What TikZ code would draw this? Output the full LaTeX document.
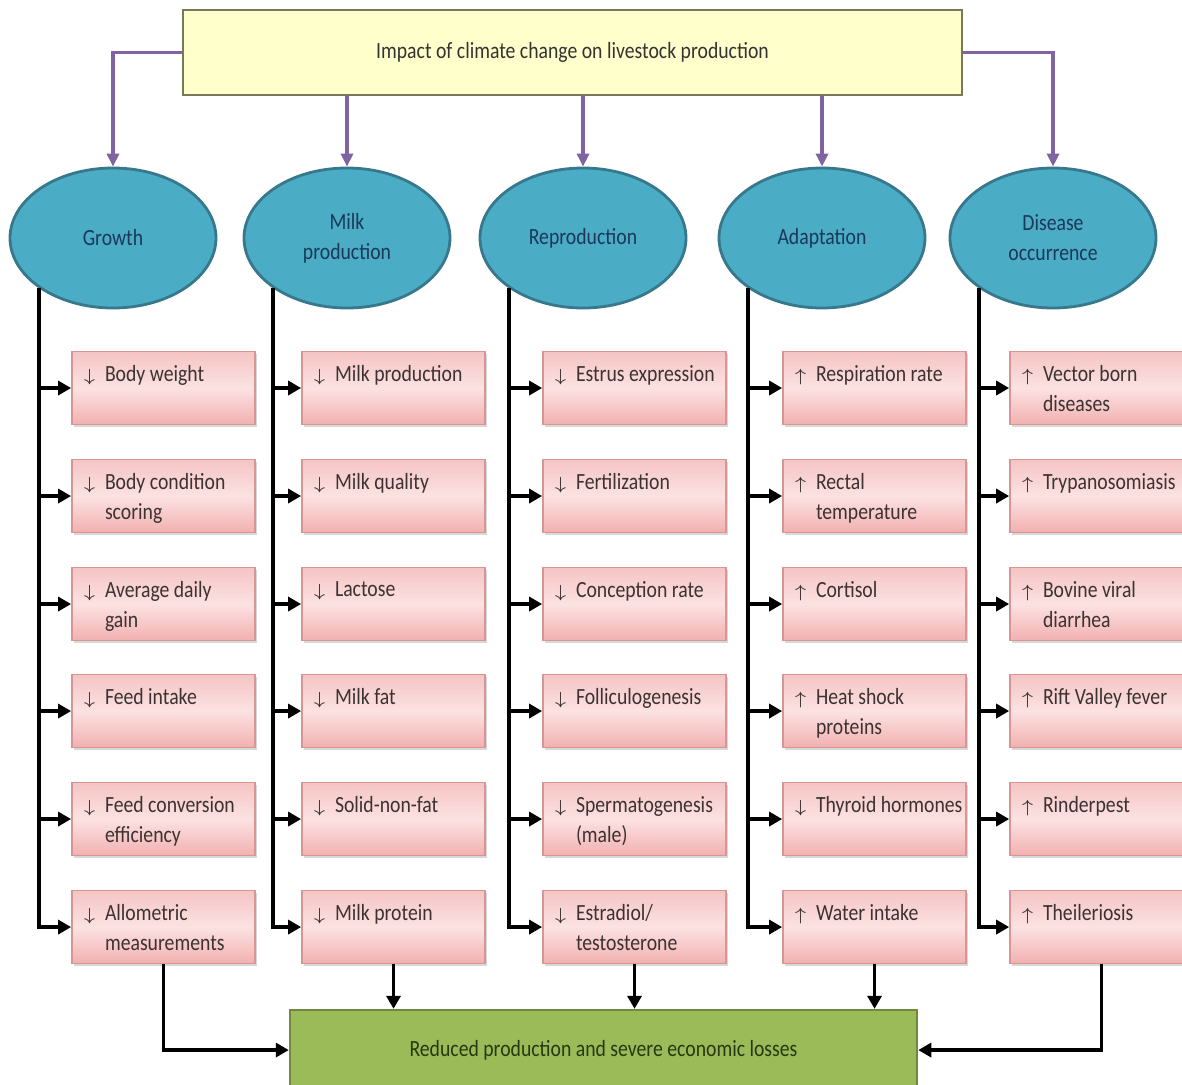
\documentclass[tikz,border=0pt]{standalone}
\usepackage{fontspec}
\setmainfont{Carlito}[FakeStretch=0.85]
\usepackage{tikz}
\usetikzlibrary{shapes.geometric,arrows.meta,shadows}

\definecolor{TitleFill}{RGB}{255,255,204}
\definecolor{TitleLine}{RGB}{120,120,90}
\definecolor{Purple}{RGB}{128,100,162}
\definecolor{EllFill}{RGB}{75,172,198}
\definecolor{EllLine}{RGB}{55,120,140}
\definecolor{EllText}{RGB}{28,56,88}
\definecolor{PinkTop}{RGB}{245,196,196}
\definecolor{PinkMid}{RGB}{252,226,226}
\definecolor{PinkBot}{RGB}{242,176,176}
\definecolor{PinkLine}{RGB}{214,150,148}
\definecolor{BoxText}{RGB}{60,50,50}
\definecolor{GreenFill}{RGB}{155,187,89}
\definecolor{GreenLine}{RGB}{113,137,63}
\definecolor{GreenText}{RGB}{40,56,16}

% text inside an effect box: sign, then the wording
\newcommand{\effect}[2]{\parbox[c][0.45cm][t]{1.83cm}{\hspace*{0.11cm}\makebox[0.22cm][l]{#1}\parbox[t]{1.5cm}{\raggedright #2}}}
\newcommand{\dn}[1]{\effect{$\scriptstyle\downarrow$}{#1}}
\newcommand{\up}[1]{\effect{$\scriptstyle\uparrow$}{#1}}

\tikzset{
    titlebox/.style={draw=TitleLine, line width=0.7pt, fill=TitleFill, minimum width=7.79cm, minimum height=0.85cm, inner sep=0pt, text=black!80},
    area/.style={ellipse, draw=EllLine, line width=0.8pt, fill=EllFill, minimum width=2.06cm, minimum height=1.4cm, inner sep=0pt, align=center, text=EllText},
    effectbox/.style={draw=PinkLine, line width=0.5pt, top color=PinkTop, bottom color=PinkBot, middle color=PinkMid, minimum width=1.83cm, minimum height=0.73cm, inner sep=0pt, text=BoxText, drop shadow={shadow xshift=0.6pt, shadow yshift=-0.8pt, opacity=0.3}},
    resultbox/.style={draw=GreenLine, line width=0.7pt, fill=GreenFill, minimum width=6.27cm, minimum height=0.8cm, inner sep=0pt, text=GreenText},
    feed/.style={draw=Purple, line width=1.1pt, -{Triangle[length=0.13cm,width=0.12cm]}},
    branch/.style={draw=black, line width=1.1pt, -{Triangle[length=0.13cm,width=0.14cm]}}
}

\begin{document}
\begin{tikzpicture}[scale=0.1]
        \fontsize{6.6}{8.5}\selectfont
        \useasboundingbox [fill=white] (0,0) rectangle (118.2,-108.5);
        % top box
        \node [titlebox] (impact) at (57.25,-5.25) {Impact of climate change on livestock production};
        % the five areas
        \node [area] (growth) at (11.3,-23.8) {Growth};
        \node [area] (milk) at (34.7,-23.8) {Milk\\production};
        \node [area] (repro) at (58.3,-23.8) {Reproduction};
        \node [area] (adapt) at (82.2,-23.8) {Adaptation};
        \node [area] (disease) at (105.3,-23.8) {Disease\\occurrence};
        \draw [feed] (impact.west) -| (growth.north);
        \draw [feed] (impact.south -| milk.north) -- (milk.north);
        \draw [feed] (impact.south -| repro.north) -- (repro.north);
        \draw [feed] (impact.south -| adapt.north) -- (adapt.north);
        \draw [feed] (impact.east) -| (disease.north);
        % growth
        \node [effectbox] (g1) at (16.35,-38.8) {\dn{Body weight}};
        \node [effectbox] (g2) at (16.35,-49.6) {\dn{Body condition scoring}};
        \node [effectbox] (g3) at (16.35,-60.4) {\dn{Average daily\\gain}};
        \node [effectbox] (g4) at (16.35,-71.1) {\dn{Feed intake}};
        \node [effectbox] (g5) at (16.35,-81.9) {\dn{Feed conversion efficiency}};
        \node [effectbox] (g6) at (16.35,-92.7) {\dn{Allometric measurements}};
        % milk production
        \node [effectbox] (m1) at (39.35,-38.8) {\dn{Milk production}};
        \node [effectbox] (m2) at (39.35,-49.6) {\dn{Milk quality}};
        \node [effectbox] (m3) at (39.35,-60.4) {\dn{Lactose}};
        \node [effectbox] (m4) at (39.35,-71.1) {\dn{Milk fat}};
        \node [effectbox] (m5) at (39.35,-81.9) {\dn{Solid-non-fat}};
        \node [effectbox] (m6) at (39.35,-92.7) {\dn{Milk protein}};
        % reproduction
        \node [effectbox] (r1) at (63.45,-38.8) {\dn{Estrus expression}};
        \node [effectbox] (r2) at (63.45,-49.6) {\dn{Fertilization}};
        \node [effectbox] (r3) at (63.45,-60.4) {\dn{Conception rate}};
        \node [effectbox] (r4) at (63.45,-71.1) {\dn{Folliculogenesis}};
        \node [effectbox] (r5) at (63.45,-81.9) {\dn{Spermatogenesis (male)}};
        \node [effectbox] (r6) at (63.45,-92.7) {\dn{Estradiol/ testosterone}};
        % adaptation
        \node [effectbox] (a1) at (87.45,-38.8) {\up{Respiration rate}};
        \node [effectbox] (a2) at (87.45,-49.6) {\up{Rectal temperature}};
        \node [effectbox] (a3) at (87.45,-60.4) {\up{Cortisol}};
        \node [effectbox] (a4) at (87.45,-71.1) {\up{Heat shock proteins}};
        \node [effectbox] (a5) at (87.45,-81.9) {\dn{Thyroid hormones}};
        \node [effectbox] (a6) at (87.45,-92.7) {\up{Water intake}};
        % disease occurrence
        \node [effectbox] (d1) at (110.15,-38.8) {\up{Vector born diseases}};
        \node [effectbox] (d2) at (110.15,-49.6) {\up{Trypanosomiasis}};
        \node [effectbox] (d3) at (110.15,-60.4) {\up{Bovine viral diarrhea}};
        \node [effectbox] (d4) at (110.15,-71.1) {\up{Rift Valley fever}};
        \node [effectbox] (d5) at (110.15,-81.9) {\up{Rinderpest}};
        \node [effectbox] (d6) at (110.15,-92.7) {\up{Theileriosis}};
        % result
        \node [resultbox] (loss) at (60.35,-105) {Reduced production and severe economic losses};
        % trunks and branches
        \draw [branch] (growth.214) |- (g6.west);
        \draw [branch] (growth.214 |- g1.west) -- (g1.west);
        \draw [branch] (growth.214 |- g2.west) -- (g2.west);
        \draw [branch] (growth.214 |- g3.west) -- (g3.west);
        \draw [branch] (growth.214 |- g4.west) -- (g4.west);
        \draw [branch] (growth.214 |- g5.west) -- (g5.west);
        \draw [branch] (milk.214) |- (m6.west);
        \draw [branch] (milk.214 |- m1.west) -- (m1.west);
        \draw [branch] (milk.214 |- m2.west) -- (m2.west);
        \draw [branch] (milk.214 |- m3.west) -- (m3.west);
        \draw [branch] (milk.214 |- m4.west) -- (m4.west);
        \draw [branch] (milk.214 |- m5.west) -- (m5.west);
        \draw [branch] (repro.214) |- (r6.west);
        \draw [branch] (repro.214 |- r1.west) -- (r1.west);
        \draw [branch] (repro.214 |- r2.west) -- (r2.west);
        \draw [branch] (repro.214 |- r3.west) -- (r3.west);
        \draw [branch] (repro.214 |- r4.west) -- (r4.west);
        \draw [branch] (repro.214 |- r5.west) -- (r5.west);
        \draw [branch] (adapt.214) |- (a6.west);
        \draw [branch] (adapt.214 |- a1.west) -- (a1.west);
        \draw [branch] (adapt.214 |- a2.west) -- (a2.west);
        \draw [branch] (adapt.214 |- a3.west) -- (a3.west);
        \draw [branch] (adapt.214 |- a4.west) -- (a4.west);
        \draw [branch] (adapt.214 |- a5.west) -- (a5.west);
        \draw [branch] (disease.214) |- (d6.west);
        \draw [branch] (disease.214 |- d1.west) -- (d1.west);
        \draw [branch] (disease.214 |- d2.west) -- (d2.west);
        \draw [branch] (disease.214 |- d3.west) -- (d3.west);
        \draw [branch] (disease.214 |- d4.west) -- (d4.west);
        \draw [branch] (disease.214 |- d5.west) -- (d5.west);
        % into the result
        \draw [branch] (g6.south) |- (loss.west);
        \draw [branch] (m6.south) -- (m6.south |- loss.north);
        \draw [branch] (r6.south) -- (r6.south |- loss.north);
        \draw [branch] (a6.south) -- (a6.south |- loss.north);
        \draw [branch] (d6.south) |- (loss.east);
    \end{tikzpicture}
\end{document}
